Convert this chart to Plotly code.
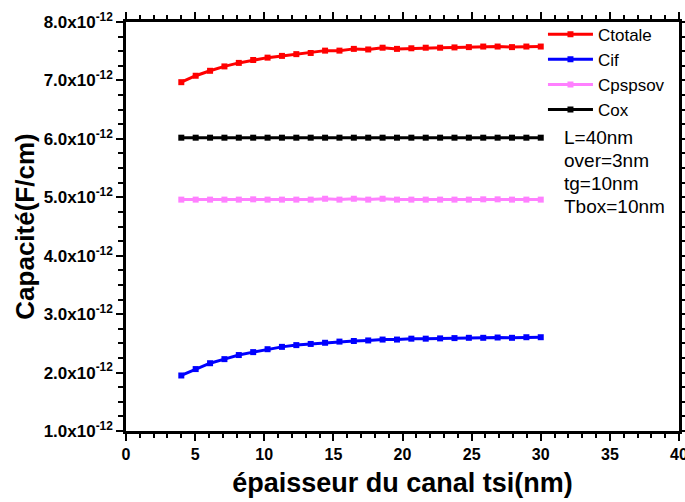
import plotly.graph_objects as go

# thickness of the channel tsi (nm)
tsi = [4.0, 5.04, 6.08, 7.12, 8.16, 9.2, 10.24, 11.28, 12.32, 13.36, 14.4, 15.44, 16.48,
       17.52, 18.56, 19.6, 20.64, 21.68, 22.72, 23.76, 24.8, 25.84, 26.88, 27.92, 28.96, 30.0]

# capacitances in units of 1e-12 F/cm
ctotale = [6.97, 7.08, 7.165, 7.24, 7.30, 7.35, 7.39, 7.42, 7.45, 7.47, 7.51, 7.51, 7.54,
           7.53, 7.56, 7.54, 7.55, 7.56, 7.56, 7.565, 7.57, 7.58, 7.58, 7.57, 7.58, 7.58]

cif = [1.95, 2.06, 2.16, 2.23, 2.30, 2.35, 2.40, 2.44, 2.47, 2.49, 2.51, 2.53, 2.54,
       2.55, 2.565, 2.565, 2.58, 2.58, 2.585, 2.59, 2.595, 2.595, 2.60, 2.595, 2.605, 2.605]

cpspsov = [4.96, 4.96, 4.96, 4.96, 4.96, 4.965, 4.96, 4.96, 4.96, 4.96, 4.975, 4.96, 4.975,
           4.96, 4.975, 4.96, 4.96, 4.96, 4.96, 4.96, 4.96, 4.965, 4.965, 4.96, 4.96, 4.96]

cox = [6.02, 6.02, 6.02, 6.02, 6.02, 6.02, 6.02, 6.02, 6.02, 6.02, 6.02, 6.02, 6.02,
       6.02, 6.02, 6.02, 6.02, 6.02, 6.02, 6.02, 6.02, 6.02, 6.02, 6.02, 6.02, 6.02]

series_names = ["Ctotale", "Cif", "Cpspsov", "Cox"]
series_values = [ctotale, cif, cpspsov, cox]
series_colors = ["#FF0000", "#0000FF", "#FF80FF", "#000000"]

x_tickvals = [0, 5, 10, 15, 20, 25, 30, 35, 40]
x_ticktext = ["<b>0</b>", "<b>5</b>", "<b>10</b>", "<b>15</b>", "<b>20</b>", "<b>25</b>",
              "<b>30</b>", "<b>35</b>", "<b>40</b>"]

y_tickvals = [1, 2, 3, 4, 5, 6, 7, 8]
y_ticktext = ["<b>1.0x10<sup>-12</sup></b>", "<b>2.0x10<sup>-12</sup></b>",
              "<b>3.0x10<sup>-12</sup></b>", "<b>4.0x10<sup>-12</sup></b>",
              "<b>5.0x10<sup>-12</sup></b>", "<b>6.0x10<sup>-12</sup></b>",
              "<b>7.0x10<sup>-12</sup></b>", "<b>8.0x10<sup>-12</sup></b>"]

params_text = ["L=40nm", "over=3nm", "tg=10nm", "Tbox=10nm"]

FONT = "Arial"

fig = go.Figure()
for name, vals, col in zip(series_names, series_values, series_colors):
    fig.add_trace(go.Scatter(
        x=tsi, y=vals, name=name, mode="lines+markers",
        line=dict(color=col, width=3),
        marker=dict(symbol="square", size=6, color=col),
    ))

fig.update_layout(
    template="none",
    width=685, height=502,
    margin=dict(l=126, r=6, t=22, b=71),
    paper_bgcolor="white", plot_bgcolor="white",
    font=dict(family=FONT, color="black"),
    xaxis=dict(range=[0, 40], tickmode="array", tickvals=x_tickvals, ticktext=x_ticktext,
               ticks="outside", ticklen=7, tickwidth=2, tickcolor="black",
               showline=True, linecolor="black", linewidth=2.5, mirror="ticks",
               showgrid=False, zeroline=False, ticklabeloverflow="allow",
               minor=dict(tickmode="linear", tick0=0, dtick=1, ticklen=4, ticks="outside",
                          tickwidth=2, tickcolor="black", showgrid=False),
               tickfont=dict(size=16, family=FONT, color="black"),
               title=dict(text="<b>épaisseur du canal tsi(nm)</b>",
                          font=dict(size=27, family=FONT, color="black"), standoff=12)),
    yaxis=dict(range=[1, 8], tickmode="array", tickvals=y_tickvals, ticktext=y_ticktext,
               ticks="outside", ticklen=7, tickwidth=2, tickcolor="black",
               showline=True, linecolor="black", linewidth=2.5, mirror="ticks",
               showgrid=False, zeroline=False,
               minor=dict(tickmode="linear", tick0=0, dtick=0.25, ticklen=5, ticks="outside",
                          tickwidth=2, tickcolor="black", showgrid=False),
               tickfont=dict(size=17, family=FONT, color="black"),
               title=dict(text="<b>Capacité(F/cm)</b>",
                          font=dict(size=26, family=FONT, color="black"), standoff=2)),
    legend=dict(x=0.754, y=1.013, xanchor="left", yanchor="top", bgcolor="rgba(0,0,0,0)",
                font=dict(size=17, family=FONT, color="black"), tracegroupgap=0, itemwidth=45),
    showlegend=True,
)

ann_y = [137, 161, 184, 207]  # pixel rows
for txt, py in zip(params_text, ann_y):
    fig.add_annotation(
        xref="paper", yref="paper", x=(562 - 126) / 553, y=1 - (py - 22) / 409,
        xanchor="left", yanchor="middle", text=txt, showarrow=False, align="left",
        font=dict(size=19, family=FONT, color="black"),
    )

fig.write_html("out.html", config={"displayModeBar": False},
               post_script="document.body.style.margin='0';")
